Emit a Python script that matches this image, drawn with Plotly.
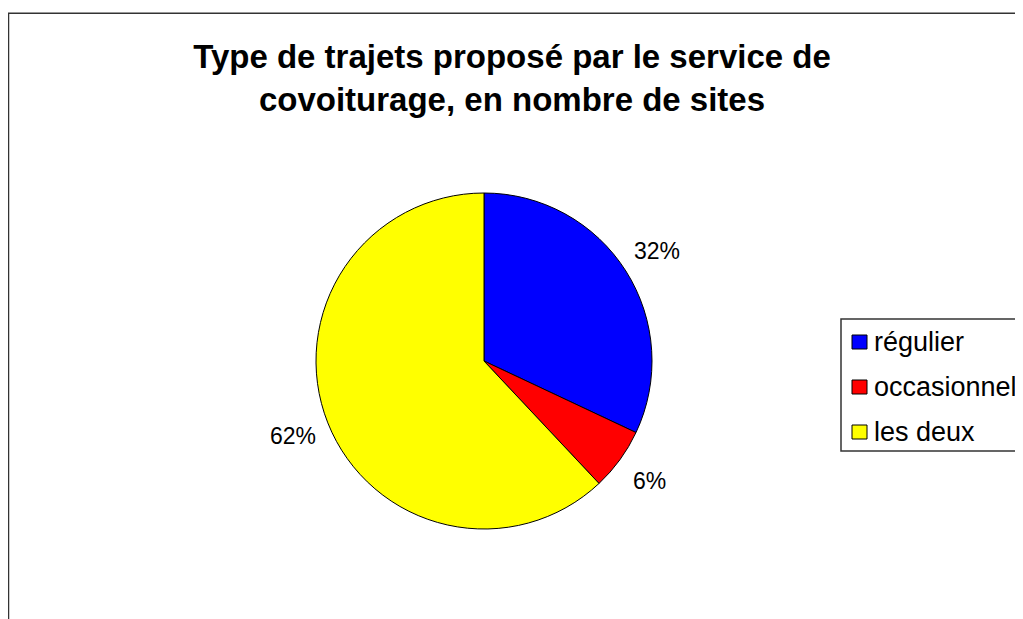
import math
import plotly.graph_objects as go

categories = ["régulier", "occasionnel", "les deux"]
sites = [16, 3, 31]
colors = ["#0000FF", "#FF0000", "#FFFF00"]
title_lines = ["Type de trajets proposé par le service de", "covoiturage, en nombre de sites"]

W, H = 1023, 619
FONT = "Arial, Liberation Sans, sans-serif"

# pie geometry in paper pixels (from top-left)
cx, cy, r = 476, 353, 168

fig = go.Figure(go.Pie(
    labels=categories,
    values=sites,
    sort=False,
    direction="clockwise",
    rotation=0,
    marker=dict(colors=colors, line=dict(color="#000000", width=1)),
    textinfo="none",
    domain=dict(x=[(cx - r) / W, (cx + r) / W], y=[1 - (cy + r) / H, 1 - (cy - r) / H]),
    hoverinfo="label+value+percent",
    showlegend=False,
))

annotations = []
total = sum(sites)
cum = 0
for v in sites:
    mid = (cum + v / 2) / total * 2 * math.pi
    cum += v
    d = 1.22 * r
    px = cx + d * math.sin(mid)
    py = cy - d * math.cos(mid)
    annotations.append(dict(
        x=px / W, y=1 - py / H, xref="paper", yref="paper",
        text=f"{round(100 * v / total)}%", showarrow=False,
        xanchor="center", yanchor="middle",
        font=dict(family=FONT, size=23, color="#000000"),
    ))

# legend (drawn manually to match spacing)
leg_x0, leg_y0, row_h = 833, 311, 45
shapes = [
    dict(type="rect", xref="paper", yref="paper",
         x0=0.5 / W, x1=1.2, y0=-0.2, y1=1 - 5.3 / H,
         line=dict(color="#333333", width=1.5), fillcolor="rgba(0,0,0,0)", layer="below"),
    dict(type="rect", xref="paper", yref="paper",
         x0=leg_x0 / W, x1=(leg_x0 + 200) / W, y0=1 - (leg_y0 + 3 * row_h - 3) / H, y1=1 - leg_y0 / H,
         line=dict(color="#333333", width=1.5), fillcolor="#FFFFFF", layer="below"),
]
for i, (cat, col) in enumerate(zip(categories, colors)):
    yc = leg_y0 + 23 + i * row_h
    shapes.append(dict(type="rect", xref="paper", yref="paper",
                       x0=(leg_x0 + 11) / W, x1=(leg_x0 + 26) / W,
                       y0=1 - (yc + 7) / H, y1=1 - (yc - 7) / H,
                       line=dict(color="#000000", width=1), fillcolor=col))
    annotations.append(dict(
        x=(leg_x0 + 31) / W, y=1 - yc / H, xref="paper", yref="paper",
        text=cat, showarrow=False, xanchor="left", yanchor="middle",
        font=dict(family=FONT, size=27, color="#000000"),
    ))

fig.update_layout(
    width=W, height=H,
    margin=dict(l=0, r=0, t=0, b=0),
    paper_bgcolor="#FFFFFF",
    plot_bgcolor="#FFFFFF",
    title=dict(
        text="<b>" + "<br>".join(title_lines) + "</b>",
        x=504 / W, xanchor="center",
        y=1 - 60 / H, yanchor="top",
        font=dict(family=FONT, size=33, color="#000000"),
    ),
    showlegend=False,
    shapes=shapes,
    annotations=annotations,
)

fig.write_html("out.html")
